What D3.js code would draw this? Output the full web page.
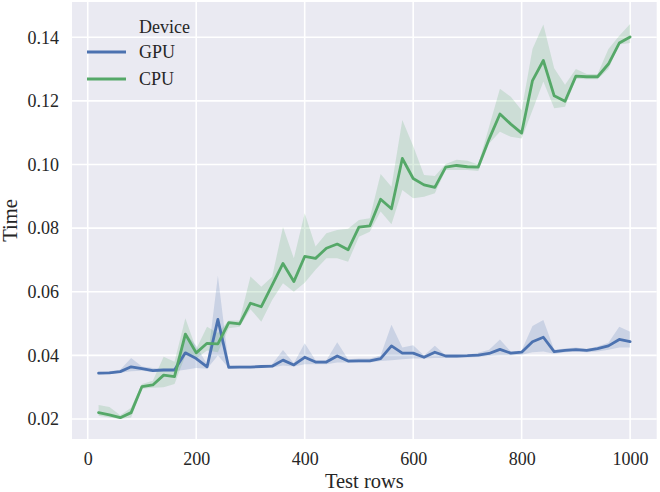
<!DOCTYPE html>
<html><head><meta charset="utf-8">
<script src="https://cdn.jsdelivr.net/npm/d3@7"></script>
<style>body{margin:0;background:#fff}svg{display:block}</style>
</head><body><svg id="c" width="660" height="492"></svg>
<script>
const rows = [20,40,60,80,100,120,140,160,180,200,220,240,260,280,300,320,340,360,380,400,420,440,460,480,500,520,540,560,580,600,620,640,660,680,700,720,740,760,780,800,820,840,860,880,900,920,940,960,980,1000];
const gpuMean = [0.0344,0.0345,0.0349,0.0364,0.0358,0.0352,0.0354,0.0354,0.0408,0.0390,0.0364,0.0513,0.0362,0.0363,0.0363,0.0365,0.0366,0.0385,0.0370,0.0394,0.0379,0.0379,0.0398,0.0382,0.0383,0.0383,0.0390,0.0430,0.0407,0.0407,0.0394,0.0410,0.0398,0.0398,0.0399,0.0401,0.0406,0.0419,0.0407,0.0410,0.0443,0.0457,0.0412,0.0416,0.0418,0.0416,0.0421,0.0430,0.0450,0.0443];
const gpuLow  = [0.0340,0.0342,0.0345,0.0350,0.0352,0.0348,0.0350,0.0350,0.0355,0.0360,0.0358,0.0400,0.0360,0.0360,0.0360,0.0362,0.0362,0.0368,0.0365,0.0372,0.0372,0.0372,0.0378,0.0378,0.0378,0.0378,0.0382,0.0385,0.0388,0.0390,0.0390,0.0392,0.0392,0.0392,0.0393,0.0395,0.0398,0.0400,0.0400,0.0402,0.0410,0.0412,0.0405,0.0410,0.0412,0.0410,0.0412,0.0418,0.0425,0.0425];
const gpuHigh = [0.0348,0.0350,0.0355,0.0392,0.0365,0.0360,0.0358,0.0358,0.0470,0.0430,0.0372,0.0650,0.0370,0.0368,0.0368,0.0370,0.0372,0.0417,0.0375,0.0438,0.0385,0.0385,0.0441,0.0388,0.0390,0.0390,0.0400,0.0496,0.0425,0.0432,0.0400,0.0430,0.0400,0.0400,0.0402,0.0408,0.0418,0.0450,0.0412,0.0415,0.0492,0.0511,0.0418,0.0422,0.0425,0.0420,0.0428,0.0440,0.0490,0.0474];
const cpuMean = [0.0220,0.0213,0.0204,0.0220,0.0302,0.0307,0.0338,0.0333,0.0467,0.0408,0.0438,0.0436,0.0503,0.0499,0.0564,0.0553,0.0621,0.0689,0.0632,0.0711,0.0705,0.0737,0.0750,0.0732,0.0803,0.0807,0.0891,0.0861,0.1019,0.0956,0.0936,0.0928,0.0992,0.0997,0.0993,0.0992,0.1080,0.1159,0.1127,0.1099,0.1264,0.1327,0.1216,0.1199,0.1278,0.1276,0.1276,0.1316,0.1382,0.1401];
const cpuLow  = [0.0210,0.0205,0.0200,0.0205,0.0295,0.0298,0.0300,0.0310,0.0400,0.0390,0.0415,0.0410,0.0485,0.0490,0.0545,0.0506,0.0574,0.0627,0.0600,0.0628,0.0669,0.0705,0.0705,0.0694,0.0773,0.0789,0.0852,0.0812,0.0920,0.0894,0.0899,0.0910,0.0983,0.0983,0.0983,0.0980,0.1066,0.1103,0.1087,0.1082,0.1171,0.1261,0.1177,0.1182,0.1270,0.1268,0.1268,0.1300,0.1377,0.1382];
const cpuHigh = [0.0244,0.0238,0.0212,0.0235,0.0310,0.0320,0.0396,0.0380,0.0517,0.0420,0.0490,0.0470,0.0510,0.0510,0.0648,0.0616,0.0647,0.0804,0.0705,0.0847,0.0742,0.0784,0.0794,0.0798,0.0826,0.0831,0.0970,0.0930,0.1140,0.1058,0.0967,0.0964,0.1002,0.1015,0.1012,0.1000,0.1119,0.1238,0.1213,0.1171,0.1363,0.1440,0.1303,0.1251,0.1300,0.1285,0.1285,0.1363,0.1405,0.1442];
const xTicks = [0,200,400,600,800,1000];
const yTicks = [0.02,0.04,0.06,0.08,0.10,0.12,0.14];
const series = [
  {name:"GPU", color:"#4C72B0", mean:gpuMean, low:gpuLow, high:gpuHigh},
  {name:"CPU", color:"#55A868", mean:cpuMean, low:cpuLow, high:cpuHigh}
];

const svg = d3.select("#c");
const L=72, R=656.7, T=2, B=439;
const x = d3.scaleLinear().domain([-29,1049]).range([L,R]);
const y = d3.scaleLinear().domain([0.01371,0.1511]).range([B,T]);
const font = "'Liberation Serif','DejaVu Serif',serif";

svg.append("rect").attr("x",L).attr("y",T).attr("width",R-L).attr("height",B-T).attr("fill","#EAEAF2");
const g = svg.append("g");
g.selectAll(".gx").data(xTicks).enter().append("line")
  .attr("x1",d=>x(d)).attr("x2",d=>x(d)).attr("y1",T).attr("y2",B)
  .attr("stroke","#fff").attr("stroke-width",1.6);
g.selectAll(".gy").data(yTicks).enter().append("line")
  .attr("x1",L).attr("x2",R).attr("y1",d=>y(d)).attr("y2",d=>y(d))
  .attr("stroke","#fff").attr("stroke-width",1.6);

const xAxis = svg.append("g").attr("transform",`translate(0,${B})`)
  .call(d3.axisBottom(x).tickValues(xTicks).tickSize(0).tickPadding(13).tickFormat(d3.format("d")));
const yAxis = svg.append("g").attr("transform",`translate(${L},0)`)
  .call(d3.axisLeft(y).tickValues(yTicks).tickSize(0).tickPadding(13).tickFormat(d3.format(".2f")));
[xAxis,yAxis].forEach(a=>{
  a.select(".domain").remove();
  a.selectAll("text").attr("font-family",font).attr("font-size",18).attr("fill","#262626");
});

series.forEach(s=>{
  const idx = d3.range(rows.length);
  const area = d3.area().x(i=>x(rows[i])).y0(i=>y(s.low[i])).y1(i=>y(s.high[i]));
  svg.append("path").attr("d",area(idx)).attr("fill",s.color).attr("fill-opacity",0.2).attr("stroke","none");
});
series.forEach(s=>{
  const idx = d3.range(rows.length);
  const line = d3.line().x(i=>x(rows[i])).y(i=>y(s.mean[i]));
  svg.append("path").attr("d",line(idx)).attr("fill","none").attr("stroke",s.color)
    .attr("stroke-width",2.8).attr("stroke-linejoin","round").attr("stroke-linecap","round");
});

svg.append("text").attr("x",(L+R)/2).attr("y",488).attr("text-anchor","middle")
  .attr("font-family",font).attr("font-size",20.5).attr("fill","#262626").text("Test rows");
svg.append("text").attr("transform",`translate(17,${(T+B)/2}) rotate(-90)`).attr("text-anchor","middle")
  .attr("font-family",font).attr("font-size",20.5).attr("fill","#262626").text("Time");

const lg = svg.append("g");
lg.append("text").attr("x",139).attr("y",33).attr("font-family",font).attr("font-size",18).attr("fill","#262626").text("Device");
series.forEach((s,i)=>{
  const yy = 52 + i*27;
  lg.append("line").attr("x1",87).attr("x2",126).attr("y1",yy).attr("y2",yy)
    .attr("stroke",s.color).attr("stroke-width",2.8);
  lg.append("text").attr("x",139).attr("y",yy+6).attr("font-family",font).attr("font-size",18).attr("fill","#262626").text(s.name);
});
</script></body></html>
